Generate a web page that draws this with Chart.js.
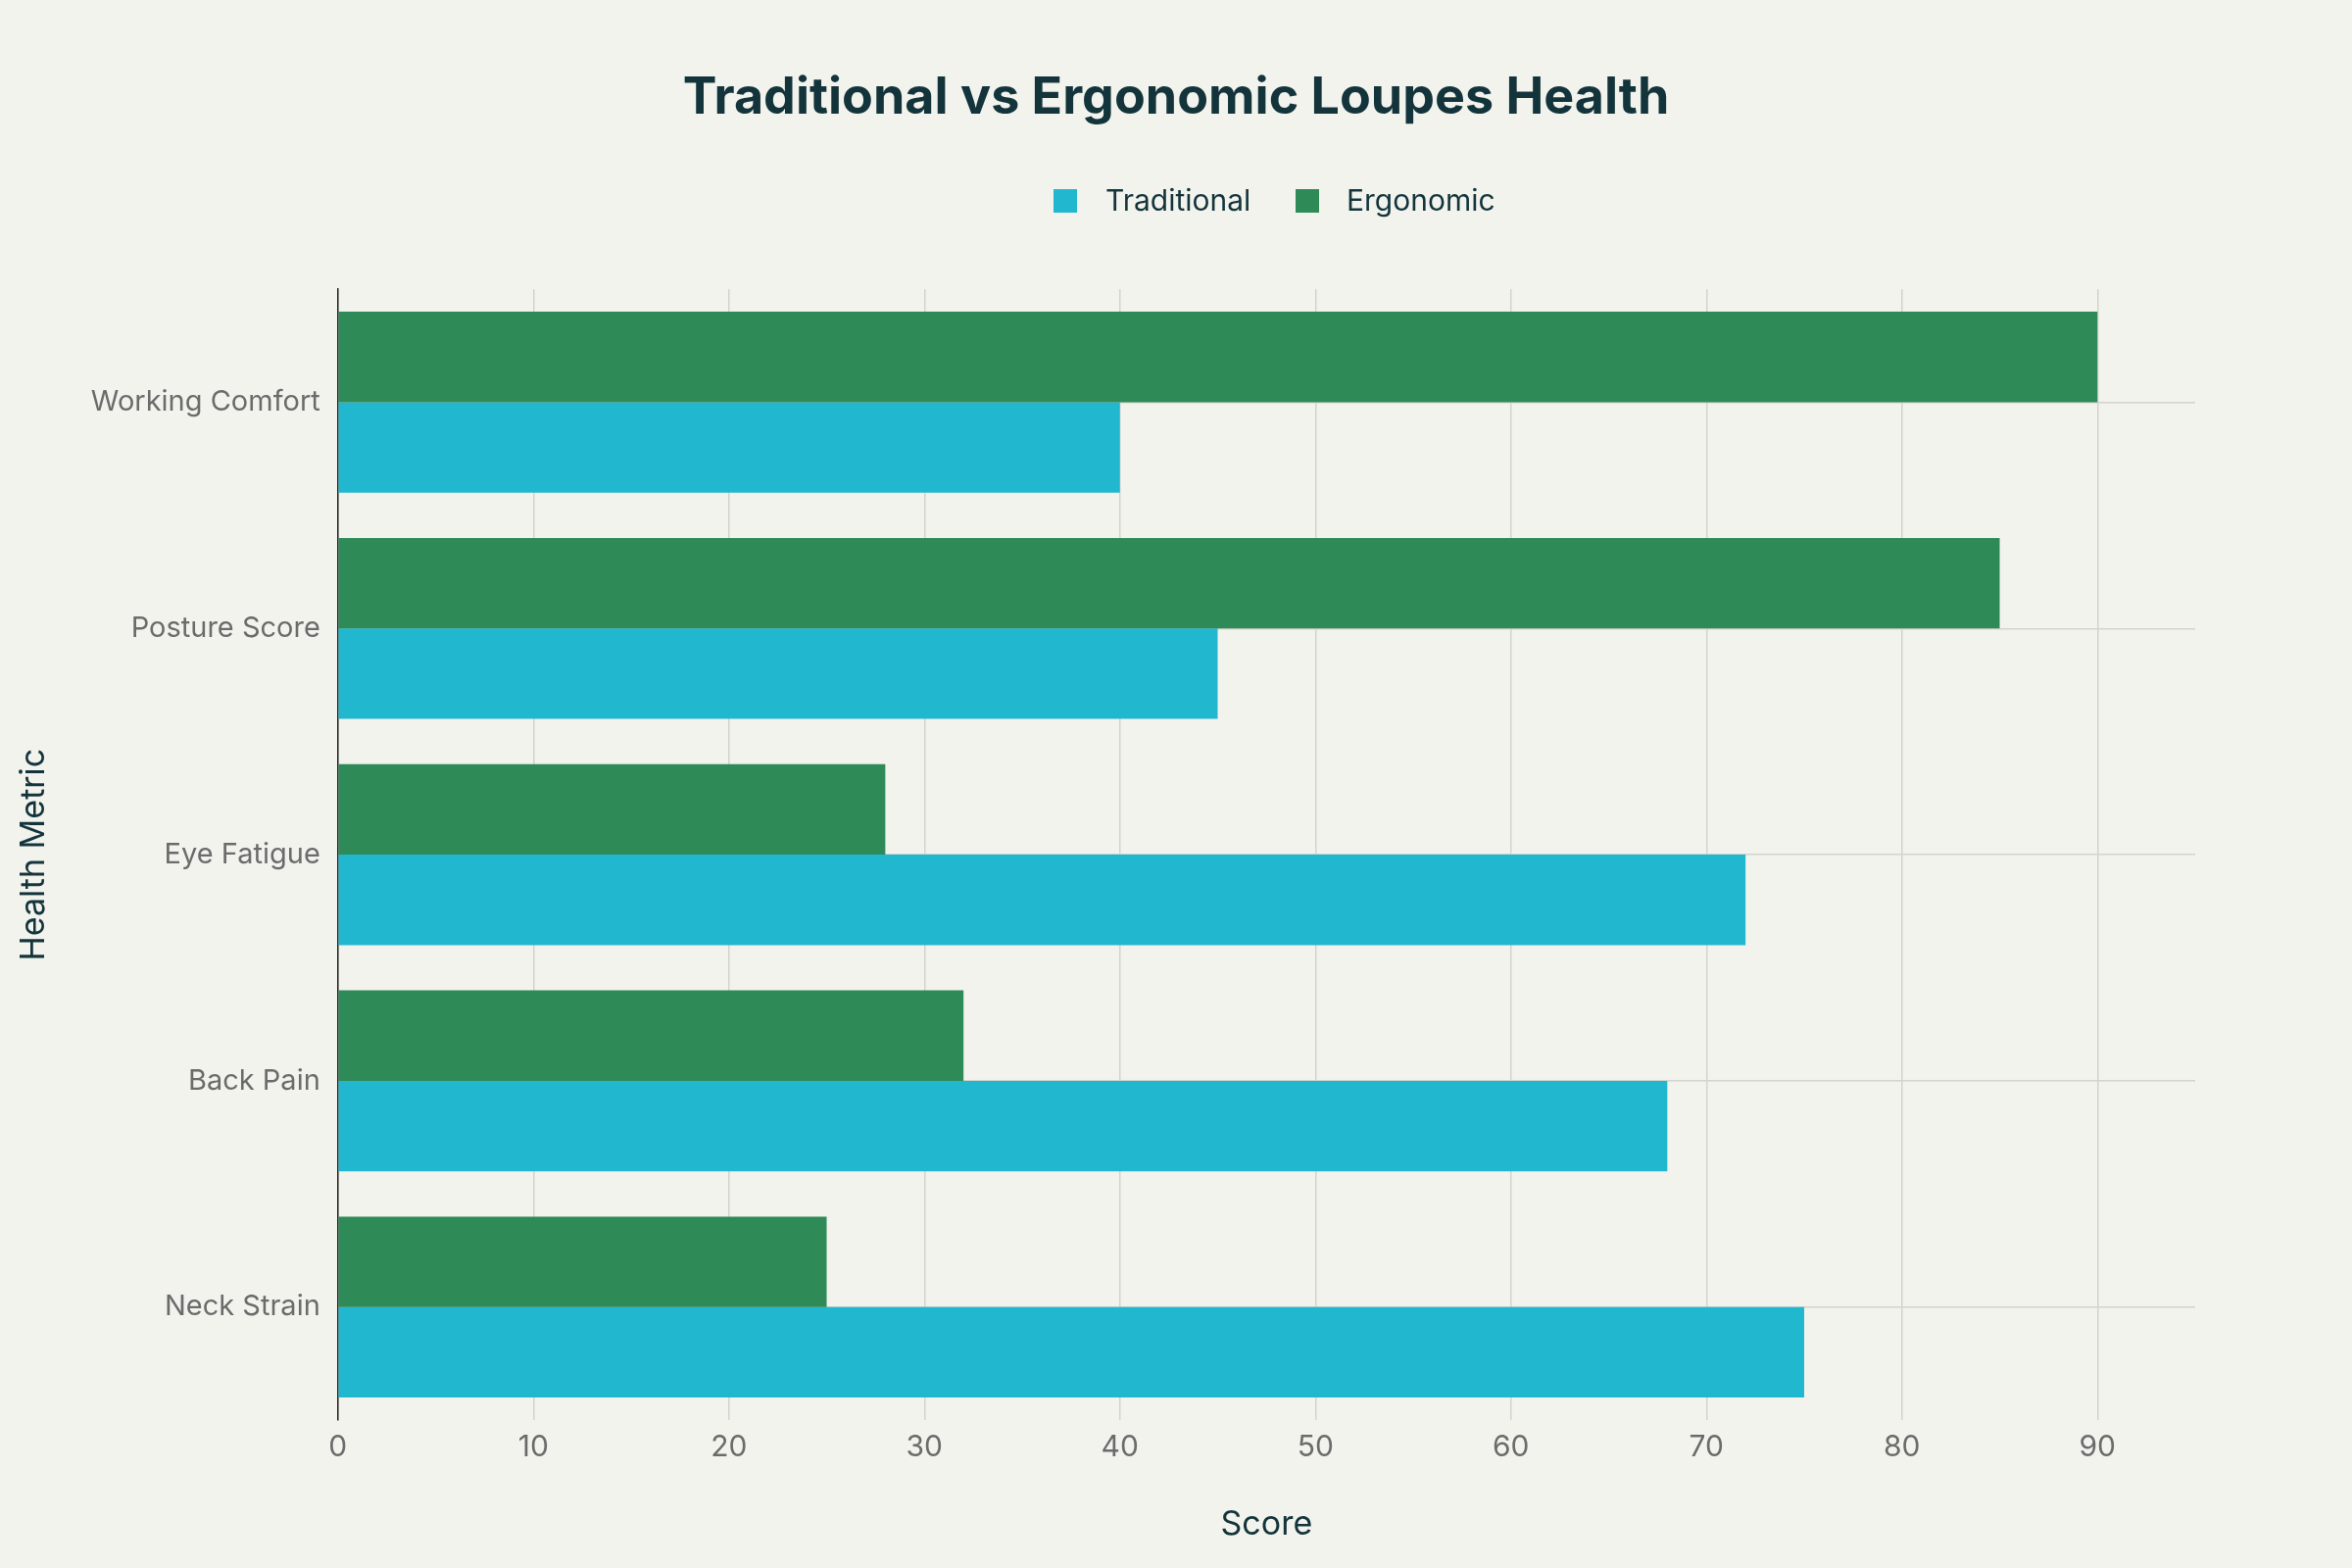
<!DOCTYPE html>
<html><head><meta charset="utf-8">
<script src="https://cdn.jsdelivr.net/npm/chart.js@4"></script>
<style>html,body{margin:0;padding:0;background:#f3f3ee}</style>
</head><body>
<canvas id="c" width="2400" height="1600"></canvas>
<script>
const categories = ["Working Comfort","Posture Score","Eye Fatigue","Back Pain","Neck Strain"];
const traditional = [40,45,72,68,75];
const ergonomic = [90,85,28,32,25];
const xTicks = [0,10,20,30,40,50,60,70,80,90];
const bg = {id:'bg',beforeDraw(c){const x=c.ctx;x.save();x.fillStyle='#f3f3ee';x.fillRect(0,0,c.width,c.height);x.restore();}};
const header = {id:'header',afterDraw(c){
  const x=c.ctx;x.save();
  x.fillStyle='#13343b';x.textAlign='center';x.textBaseline='middle';
  x.font='bold 52px Inter';x.fillText('Traditional vs Ergonomic Loupes Health',1200,100);
  x.font='30px Inter';x.textAlign='left';
  const items=[{t:'Traditional',c:'#21b8cf',bx:1075,tx:1128},{t:'Ergonomic',c:'#2e8b57',bx:1322,tx:1374}];
  items.forEach(i=>{x.fillStyle=i.c;x.fillRect(i.bx,193,24,24);x.fillStyle='#13343b';x.fillText(i.t,i.tx,206);});
  x.restore();}};
new Chart(document.getElementById('c'),{
 type:'bar',
 data:{labels:categories,datasets:[
  {label:'Ergonomic',data:ergonomic,backgroundColor:'#2e8b57'},
  {label:'Traditional',data:traditional,backgroundColor:'#21b8cf'}
 ]},
 options:{indexAxis:'y',responsive:false,devicePixelRatio:1,animation:false,
  categoryPercentage:0.8,barPercentage:1,
  layout:{padding:{left:10,right:160,top:295,bottom:20}},
  plugins:{legend:{display:false},title:{display:false},tooltip:{enabled:false}},
  scales:{
   x:{min:0,max:95,afterBuildTicks(s){s.ticks=xTicks.map(v=>({value:v}));},
      ticks:{color:'#6b6b6b',font:{family:'Inter',size:30},padding:10},
      grid:{color:'#d4d4ce',lineWidth:1.5,drawTicks:false},border:{display:false},
      title:{display:true,text:'Score',color:'#13343b',font:{family:'Inter',size:34},padding:{top:30}}},
   y:{ticks:{color:'#6b6b6b',font:{family:'Inter',size:29},padding:18},
      grid:{color:'#d4d4ce',lineWidth:1.5,offset:false,drawTicks:false},border:{color:'#222',width:1.5},
      title:{display:true,text:'Health Metric',color:'#13343b',font:{family:'Inter',size:34},padding:{bottom:20}}}
  }},
 plugins:[bg,header]
});
</script></body></html>
